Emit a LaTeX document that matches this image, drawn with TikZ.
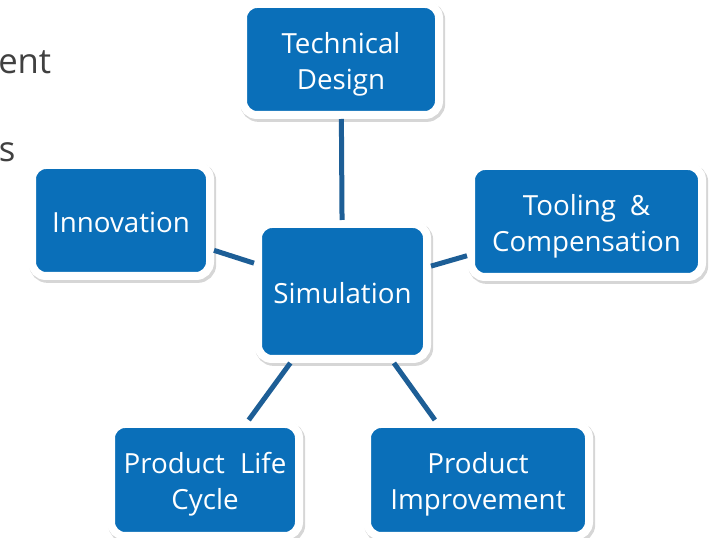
\documentclass[tikz,border=0pt]{standalone}
\usepackage{fontspec}
\setmainfont{Open Sans}
\newdimen\pxu \pxu=0.75pt
\definecolor{boxblue}{HTML}{0A6FB9}
\definecolor{linkblue}{HTML}{1D5E96}
\definecolor{slidegray}{HTML}{404040}
\newcommand{\boxlabel}[1]{\raisebox{-4.5\pxu}[\height][\depth]{\begin{tabular}{@{}c@{}}#1\end{tabular}}}
\tikzset{
  stage/.style={rectangle, rounded corners=14\pxu, fill=boxblue, draw=white,
    line width=8\pxu, text=white,
    font=\fontsize{20.8}{27}\selectfont, inner sep=0pt,
    preaction={draw=black, draw opacity=0.16, fill=none, line width=9\pxu,
      transform canvas={xshift=1.3pt, yshift=-1.8pt}}},
  link/.style={draw=linkblue, line width=5\pxu},
  slidetext/.style={text=slidegray, inner sep=0pt, anchor=base west,
    font=\fontsize{26}{30}\selectfont}
}
\begin{document}
\begin{tikzpicture}[x=\pxu, y=-\pxu]
\useasboundingbox (0,0) rectangle (715,538);
\fill[white] (0,0) rectangle (715,538);
\node[slidetext] (t1) at (-2,74) {ent};
\node[slidetext] (t2) at (-1.5,162) {s};
\node[stage, minimum width=196\pxu, minimum height=111\pxu] (td) at (341,59.5) {\boxlabel{Technical\\Design}};
\node[stage, minimum width=169\pxu, minimum height=135\pxu] (sim) at (342.5,291.5) {\boxlabel{Simulation}};
\node[stage, minimum width=178\pxu, minimum height=111\pxu] (inn) at (121,220.5) {\boxlabel{Innovation}};
\node[stage, minimum width=231\pxu, minimum height=111\pxu] (tool) at (586.5,221.5) {\boxlabel{Tooling\hspace{0.5em}\&\\Compensation}};
\node[stage, minimum width=188\pxu, minimum height=112\pxu] (plc) at (205,480) {\boxlabel{Product\hspace{0.55em}Life\\Cycle}};
\node[stage, minimum width=222\pxu, minimum height=112\pxu] (pi) at (478,480) {\boxlabel{Product\\Improvement}};
\draw[link] (td) -- (sim);
\draw[link] (inn) -- (sim);
\draw[link] (tool) -- (sim);
\draw[link] (sim) -- (plc);
\draw[link] (sim) -- (pi);
\end{tikzpicture}
\end{document}
